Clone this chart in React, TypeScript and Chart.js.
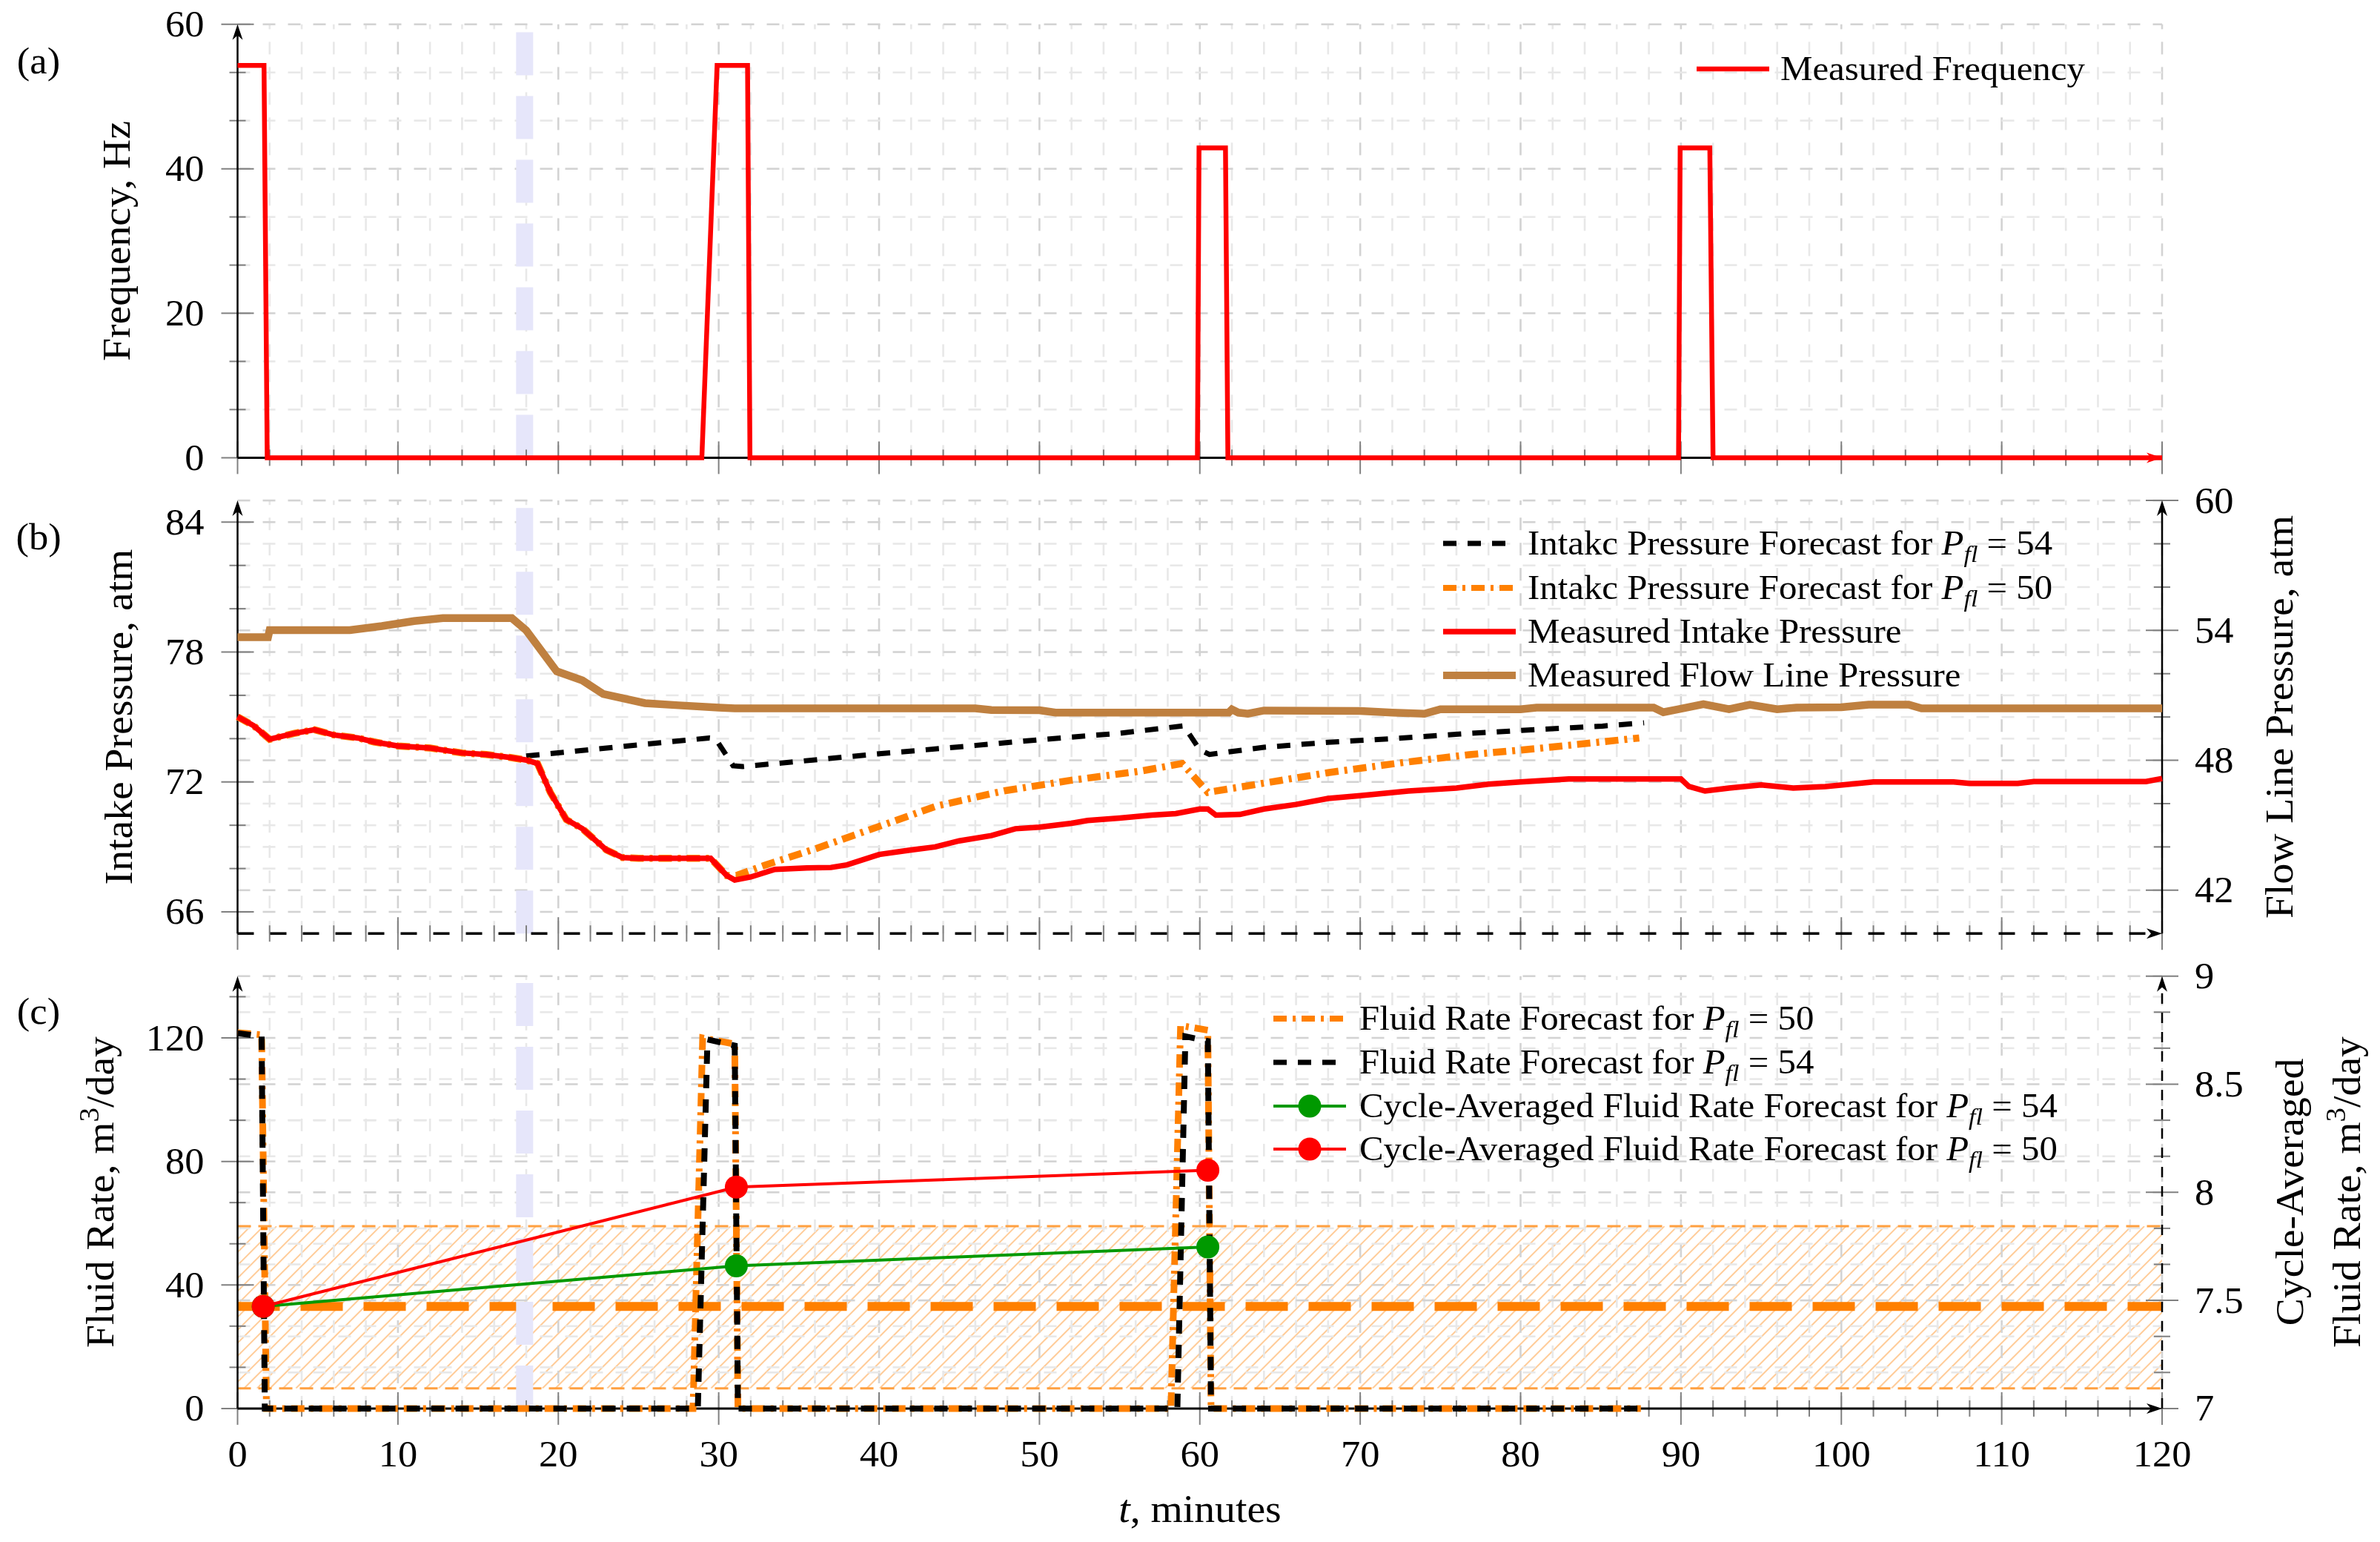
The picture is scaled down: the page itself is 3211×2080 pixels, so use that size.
import React, { useEffect, useRef } from "react";
import { Chart, registerables } from "chart.js";

Chart.register(...registerables);

// ================= DATA =================
// Panel (a): measured ESP frequency, Hz
const freqTime = [0, 1.65, 1.85, 28.95, 29.9, 31.8, 31.95, 59.85, 59.95, 61.6, 61.75, 89.85, 89.95, 91.8, 92.0, 120];
const freqHz = [54.3, 54.3, 0, 0, 54.3, 54.3, 0, 0, 42.9, 42.9, 0, 0, 42.9, 42.9, 0, 0];

// Panel (b): measured intake pressure (left axis, atm)
const intakeTime = [0, 1, 2, 3.5, 4.8, 6, 7.5, 8.5, 10, 12, 13, 14, 15.5, 17, 18, 18.7, 19.5, 20.5, 21.5, 23, 24, 25, 29.5, 30.5, 31, 32, 33.5, 35.5, 37, 38, 40, 42, 43.5, 45, 47, 48.5, 50, 52, 53, 55, 57, 58.5, 60, 60.5, 61, 62.5, 64, 66, 68, 70, 73, 76, 78, 80, 83, 90, 90.5, 91.5, 93, 95, 97, 99, 102, 107, 108, 111, 112, 119, 120];
const intakeAtm = [75.01, 74.6, 73.97, 74.24, 74.41, 74.17, 74.03, 73.85, 73.66, 73.57, 73.45, 73.34, 73.27, 73.13, 73.01, 72.85, 71.52, 70.26, 69.84, 68.86, 68.51, 68.47, 68.47, 67.68, 67.47, 67.61, 67.96, 68.03, 68.05, 68.17, 68.65, 68.86, 69.0, 69.28, 69.52, 69.84, 69.91, 70.09, 70.22, 70.33, 70.47, 70.54, 70.75, 70.75, 70.47, 70.5, 70.75, 70.96, 71.24, 71.37, 71.58, 71.72, 71.9, 72.0, 72.14, 72.14, 71.79, 71.58, 71.72, 71.86, 71.72, 71.79, 72.0, 72.0, 71.93, 71.93, 72.02, 72.02, 72.16];
// measured flow line pressure (right axis, atm)
const flowTime = [0, 1.9, 2.0, 7, 9, 11, 12.8, 17.1, 18, 19.9, 21.5, 22.8, 25.4, 27.5, 30, 31, 46, 47, 50, 51, 61.8, 62, 62.4, 63, 64, 70, 72, 74, 75, 80, 81, 88.3, 88.9, 89.8, 91.4, 93, 94.3, 96, 97.2, 100, 101.7, 104.2, 105, 120];
const flowAtm = [53.69, 53.69, 54.01, 54.01, 54.2, 54.43, 54.57, 54.57, 54.0, 52.11, 51.69, 51.06, 50.64, 50.54, 50.43, 50.4, 50.4, 50.32, 50.31, 50.2, 50.2, 50.35, 50.2, 50.15, 50.3, 50.28, 50.2, 50.15, 50.36, 50.36, 50.43, 50.43, 50.22, 50.35, 50.59, 50.36, 50.57, 50.36, 50.43, 50.45, 50.57, 50.57, 50.4, 50.4];
// intake pressure forecast for Pfl = 54
const fc54Time = [18, 29.4, 29.8, 30.9, 31.5, 35, 40, 45, 50, 55, 59, 60, 60.6, 64, 68, 72, 76.8, 81, 85.1, 87.7];
const fc54Atm = [73.2, 74.03, 74.0, 72.75, 72.71, 72.95, 73.3, 73.62, 73.95, 74.25, 74.59, 73.48, 73.27, 73.6, 73.83, 74.0, 74.24, 74.42, 74.58, 74.73];
// intake pressure forecast for Pfl = 50
const fc50Time = [0, 1, 2, 3.5, 4.8, 6, 7.5, 8.5, 10, 12, 13, 14, 15.5, 17, 18, 18.7, 19.5, 20.5, 21.5, 23, 24, 25, 29.5, 30.5, 31.1, 32.9, 36.1, 40.4, 43.6, 47.8, 52.0, 56.3, 58.9, 60.5, 68, 72.7, 76.8, 81, 87.4];
const fc50Atm = [75.01, 74.6, 73.97, 74.24, 74.41, 74.17, 74.03, 73.85, 73.66, 73.57, 73.45, 73.34, 73.27, 73.13, 73.01, 72.85, 71.52, 70.26, 69.84, 68.86, 68.51, 68.47, 68.47, 67.68, 67.68, 68.16, 68.93, 70.05, 70.89, 71.59, 72.08, 72.5, 72.85, 71.52, 72.43, 72.9, 73.26, 73.54, 74.03];

// Panel (c): fluid rate forecasts (left axis, m3/day)
const rate50Time = [0, 1.5, 1.8, 28.4, 29.0, 31.0, 31.2, 58.2, 58.8, 60.5, 60.7, 87.5];
const rate50 = [121.7, 121.0, 0, 0, 120, 118, 0, 0, 124, 122.5, 0, 0];
const rate54Time = [0, 1.5, 1.7, 28.7, 29.3, 31.0, 31.2, 58.6, 59.1, 60.5, 60.7, 87.5];
const rate54 = [121.5, 120.5, 0, 0, 119.5, 117.5, 0, 0, 120.5, 119, 0, 0];
// cycle-averaged fluid rate (right axis)
const avgTime = [1.6, 31.1, 60.5];
const avg54 = [7.472, 7.66, 7.747];
const avg50 = [7.472, 8.024, 8.102];
// measured average band (right axis)
const bandLow = 7.093;
const bandHigh = 7.843;
const bandMean = 7.472;
// start of forecast marker (minutes)
const cutoffTime = 17.9;

// ticks / labels
const timeLabels = [0, 10, 20, 30, 40, 50, 60, 70, 80, 90, 100, 110, 120];
const freqLabels = [0, 20, 40, 60];
const intakeLabels = [66, 72, 78, 84];
const flowLabels = [42, 48, 54, 60];
const rateLabels = [0, 40, 80, 120];
const avgLabels = [7, 7.5, 8, 8.5, 9];
const avgLabelTexts = ["7", "7.5", "8", "8.5", "9"];

// ================= STYLE / LAYOUT =================
const W = 3211;
const PLOT_LEFT = 320.5;
const PLOT_RIGHT = 2917;
const FAMILY = '"Liberation Serif", "DejaVu Serif", serif';
const SX = 1.05;
const RED = "#ff0000";
const ORANGE = "#ff8000";
const BROWN = "#bf8040";
const GREEN = "#009900";
const LAVENDER = "#e6e6fa";
const GRID_MAJOR = "#d3d3d3";
const GRID_MINOR = "#e8e8e8";
const GRID_DASH = [17, 17];
const TICK_C = "#808080";
const TICK_FS = 50;
const TITLE_FS = 53;
const LEG_FS = 46.5;
const DASH_BLACK = [18, 15];
const DASH_ORANGE = [18, 8, 4, 8];

const pts = (xs: number[], ys: number[]) => xs.map((x, i) => ({ x, y: ys[i] }));
const steps = (a: number, step: number, n: number) => Array.from({ length: n }, (_, k) => a + k * step);

type Seg = { t: string; it?: boolean; sub?: boolean; sup?: boolean };
type LegendItem = { segs: Seg[]; color: string; width: number; dash: number[]; marker?: boolean };
type TickSet = { axis: string; side: "left" | "right"; values: number[]; majors: number[] };
type LabelSet = { axis: string; side: "left" | "right"; values: number[]; texts: string[] };
type Title = { segs: Seg[]; x: number; y: number; rot: boolean };
interface PanelSpec {
  top: number;
  tickSets: TickSet[];
  labelSets: LabelSet[];
  xLabelY?: number;
  rightAxis?: "solid" | "dashed";
  bottomAxis: "solid" | "dashed";
  bottomArrow: string;
  titles: Title[];
  legend: { x0: number; x1: number; tx: number; rows: number[]; items: LegendItem[] };
  label: { t: string; x: number; y: number };
  band?: boolean;
}

function fnt(s: Seg, size: number) {
  const sz = s.sub || s.sup ? size * 0.7 : size;
  return `${s.it ? "italic " : ""}${sz}px ${FAMILY}`;
}

function drawSegs(ctx: CanvasRenderingContext2D, segs: Seg[], x: number, yMid: number, size: number, align: "left" | "center" | "right") {
  let w = 0;
  for (const s of segs) {
    ctx.font = fnt(s, size);
    w += ctx.measureText(s.t).width;
  }
  w *= SX;
  const x0 = align === "center" ? x - w / 2 : align === "right" ? x - w : x;
  ctx.save();
  ctx.translate(x0, yMid + size * 0.33);
  ctx.scale(SX, 1);
  ctx.fillStyle = "#000";
  ctx.textAlign = "left";
  ctx.textBaseline = "alphabetic";
  let cx = 0;
  for (const s of segs) {
    ctx.font = fnt(s, size);
    const dy = s.sub ? size * 0.2 : s.sup ? -size * 0.38 : 0;
    ctx.fillText(s.t, cx, dy);
    cx += ctx.measureText(s.t).width;
  }
  ctx.restore();
}

function line(ctx: CanvasRenderingContext2D, x1: number, y1: number, x2: number, y2: number, color: string, width: number, dash: number[] = []) {
  ctx.beginPath();
  ctx.setLineDash(dash);
  ctx.lineCap = "butt";
  ctx.strokeStyle = color;
  ctx.lineWidth = width;
  ctx.moveTo(x1, y1);
  ctx.lineTo(x2, y2);
  ctx.stroke();
  ctx.setLineDash([]);
}

function arrowUp(ctx: CanvasRenderingContext2D, x: number, y: number, color: string) {
  ctx.beginPath();
  ctx.fillStyle = color;
  ctx.moveTo(x, y);
  ctx.lineTo(x - 7, y + 21);
  ctx.lineTo(x, y + 15);
  ctx.lineTo(x + 7, y + 21);
  ctx.closePath();
  ctx.fill();
}

function arrowRight(ctx: CanvasRenderingContext2D, x: number, y: number, color: string) {
  ctx.beginPath();
  ctx.fillStyle = color;
  ctx.moveTo(x, y);
  ctx.lineTo(x - 21, y - 7);
  ctx.lineTo(x - 15, y);
  ctx.lineTo(x - 21, y + 7);
  ctx.closePath();
  ctx.fill();
}

const isIn = (v: number, arr: number[]) => arr.some((m) => Math.abs(m - v) < 1e-6);

function makePlugin(P: PanelSpec) {
  return {
    id: "panelDecor",
    beforeDatasetsDraw(chart: any) {
      const ctx: CanvasRenderingContext2D = chart.ctx;
      const ca = chart.chartArea;
      const xs = chart.scales.x;
      ctx.save();
      // hatched band
      if (P.band) {
        const s = chart.scales.y1;
        const yT = s.getPixelForValue(bandHigh);
        const yB = s.getPixelForValue(bandLow);
        const h = yB - yT;
        ctx.save();
        ctx.beginPath();
        ctx.rect(ca.left, yT, ca.right - ca.left, h);
        ctx.clip();
        for (let x = ca.left - h; x < ca.right + 20; x += 17.5) {
          line(ctx, x, yB, x + h, yT, "#ffcc99", 2);
        }
        ctx.restore();
      }
      // vertical grid
      for (let k = 1; k <= 60; k++) {
        const t = k * 2;
        const px = xs.getPixelForValue(t);
        line(ctx, px, ca.bottom, px, ca.top, t % 10 === 0 ? GRID_MAJOR : GRID_MINOR, 2.6, GRID_DASH);
      }
      // horizontal grid
      for (const ts of P.tickSets) {
        const s = chart.scales[ts.axis];
        for (const v of ts.values) {
          const py = s.getPixelForValue(v);
          if (Math.abs(py - ca.bottom) < 1) continue;
          line(ctx, ca.left, py, ca.right, py, isIn(v, ts.majors) ? GRID_MAJOR : GRID_MINOR, 2.6, GRID_DASH);
        }
      }
      if (P.band) {
        const s = chart.scales.y1;
        line(ctx, ca.left, s.getPixelForValue(bandHigh), ca.right, s.getPixelForValue(bandHigh), "#ffa040", 3, [18, 10]);
        line(ctx, ca.left, s.getPixelForValue(bandLow), ca.right, s.getPixelForValue(bandLow), "#ffa040", 3, [18, 10]);
        line(ctx, ca.left, s.getPixelForValue(bandMean), ca.right, s.getPixelForValue(bandMean), ORANGE, 12, [57, 28]);
      }
      // forecast start marker
      const lx = xs.getPixelForValue(cutoffTime);
      line(ctx, lx, ca.bottom, lx, ca.top, LAVENDER, 23, [58, 28]);
      // x ticks
      for (let k = 0; k <= 60; k++) {
        const t = k * 2;
        const px = xs.getPixelForValue(t);
        const half = t % 10 === 0 ? 22 : 11;
        line(ctx, px, ca.bottom - half, px, ca.bottom + half, TICK_C, 2);
      }
      // y ticks
      for (const ts of P.tickSets) {
        const s = chart.scales[ts.axis];
        const x = ts.side === "left" ? ca.left : ca.right;
        for (const v of ts.values) {
          const py = s.getPixelForValue(v);
          const half = isIn(v, ts.majors) ? 22 : 11;
          line(ctx, x - half, py, x + half, py, TICK_C, 2);
        }
      }
      // axes
      line(ctx, ca.left, ca.bottom, ca.left, ca.top + 8, "#000", 2.5);
      arrowUp(ctx, ca.left, ca.top, "#000");
      if (P.rightAxis) {
        line(ctx, ca.right, ca.bottom, ca.right, ca.top + 8, "#000", 2.5, P.rightAxis === "dashed" ? [14, 12] : []);
        arrowUp(ctx, ca.right, ca.top, "#000");
      }
      line(ctx, ca.left, ca.bottom, ca.right - 8, ca.bottom, "#000", P.bottomAxis === "dashed" ? 3.5 : 3, P.bottomAxis === "dashed" ? [22, 22] : []);
      arrowRight(ctx, ca.right, ca.bottom, P.bottomArrow);
      ctx.restore();
    },
    afterDraw(chart: any) {
      const ctx: CanvasRenderingContext2D = chart.ctx;
      const ca = chart.chartArea;
      const off = P.top;
      ctx.save();
      // y tick labels
      for (const ls of P.labelSets) {
        const s = chart.scales[ls.axis];
        ls.values.forEach((v, i) => {
          const py = s.getPixelForValue(v);
          if (ls.side === "left") drawSegs(ctx, [{ t: ls.texts[i] }], ca.left - 45, py, TICK_FS, "right");
          else drawSegs(ctx, [{ t: ls.texts[i] }], ca.right + 44, py, TICK_FS, "left");
        });
      }
      // x tick labels
      if (P.xLabelY !== undefined) {
        const xs = chart.scales.x;
        for (const t of timeLabels) {
          drawSegs(ctx, [{ t: String(t) }], xs.getPixelForValue(t), P.xLabelY - off, TICK_FS, "center");
        }
      }
      // titles
      for (const tt of P.titles) {
        if (tt.rot) {
          ctx.save();
          ctx.translate(tt.x, tt.y - off);
          ctx.rotate(-Math.PI / 2);
          drawSegs(ctx, tt.segs, 0, 0, TITLE_FS, "center");
          ctx.restore();
        } else {
          drawSegs(ctx, tt.segs, tt.x, tt.y - off, TITLE_FS, "center");
        }
      }
      // panel label
      drawSegs(ctx, [{ t: P.label.t }], P.label.x, P.label.y - off, 50, "center");
      // legend
      const L = P.legend;
      L.items.forEach((it, i) => {
        const y = L.rows[i] - off;
        line(ctx, L.x0, y, L.x1, y, it.color, it.width, it.dash);
        if (it.marker) {
          ctx.beginPath();
          ctx.fillStyle = it.color;
          ctx.arc((L.x0 + L.x1) / 2, y, 15.5, 0, Math.PI * 2);
          ctx.fill();
        }
        drawSegs(ctx, it.segs, L.tx, y, LEG_FS, "left");
      });
      ctx.restore();
    },
  };
}

function baseOptions(padTop: number, xH: number, y: number[], y1: number[] | null) {
  const hidden = { ticks: { display: false }, grid: { display: false }, border: { display: false } };
  const scales: any = {
    x: { type: "linear", min: 0, max: 120, ...hidden, afterFit: (s: any) => { s.height = xH; } },
    y: { type: "linear", position: "left", min: y[0], max: y[1], ...hidden, afterFit: (s: any) => { s.width = PLOT_LEFT; } },
  };
  if (y1) {
    scales.y1 = { type: "linear", position: "right", min: y1[0], max: y1[1], ...hidden, afterFit: (s: any) => { s.width = W - PLOT_RIGHT; } };
  }
  return {
    animation: false,
    responsive: false,
    maintainAspectRatio: false,
    events: [],
    layout: { autoPadding: false, padding: { top: padTop, left: 0, bottom: 0, right: y1 ? 0 : W - PLOT_RIGHT } },
    plugins: { legend: { display: false }, tooltip: { enabled: false }, title: { display: false } },
    elements: { point: { radius: 0 }, line: { tension: 0 } },
    scales,
  };
}

const pfl = (pre: string, val: string): Seg[] => [{ t: pre }, { t: "P", it: true }, { t: "fl", it: true, sub: true }, { t: " = " + val }];

function buildA(top: number) {
  const spec: PanelSpec = {
    top,
    tickSets: [{ axis: "y", side: "left", values: steps(0, 20 / 3, 10), majors: freqLabels }],
    labelSets: [{ axis: "y", side: "left", values: freqLabels, texts: freqLabels.map(String) }],
    bottomAxis: "solid",
    bottomArrow: RED,
    titles: [{ segs: [{ t: "Frequency, Hz" }], x: 158, y: 325, rot: true }],
    legend: {
      x0: 2289, x1: 2387, tx: 2402, rows: [93],
      items: [{ segs: [{ t: "Measured Frequency" }], color: RED, width: 6.5, dash: [] }],
    },
    label: { t: "(a)", x: 52, y: 82 },
  };
  return {
    type: "line",
    data: {
      datasets: [
        { label: "Measured Frequency", data: pts(freqTime, freqHz), borderColor: RED, borderWidth: 6.5, pointRadius: 0, clip: false, yAxisID: "y" },
      ],
    },
    options: baseOptions(32.8, 646 - 617.4, [0, 60], null),
    plugins: [makePlugin(spec)],
  };
}

function buildB(top: number) {
  const spec: PanelSpec = {
    top,
    tickSets: [
      { axis: "y", side: "left", values: steps(66, 2, 10), majors: intakeLabels },
      { axis: "y1", side: "right", values: steps(42, 2, 10), majors: flowLabels },
    ],
    labelSets: [
      { axis: "y", side: "left", values: intakeLabels, texts: intakeLabels.map(String) },
      { axis: "y1", side: "right", values: flowLabels, texts: flowLabels.map(String) },
    ],
    rightAxis: "solid",
    bottomAxis: "dashed",
    bottomArrow: "#000",
    titles: [
      { segs: [{ t: "Intake Pressure, atm" }], x: 161, y: 967, rot: true },
      { segs: [{ t: "Flow Line Pressure, atm" }], x: 3076, y: 967, rot: true },
    ],
    legend: {
      x0: 1947, x1: 2045, tx: 2061, rows: [733, 793, 852, 911],
      items: [
        { segs: pfl("Intakc Pressure Forecast for ", "54"), color: "#000", width: 7, dash: DASH_BLACK },
        { segs: pfl("Intakc Pressure Forecast for ", "50"), color: ORANGE, width: 8, dash: DASH_ORANGE },
        { segs: [{ t: "Measured Intake Pressure" }], color: RED, width: 7.5, dash: [] },
        { segs: [{ t: "Measured Flow Line Pressure" }], color: BROWN, width: 10, dash: [] },
      ],
    },
    label: { t: "(b)", x: 52, y: 724 },
  };
  return {
    type: "line",
    data: {
      datasets: [
        { label: "Measured Intake Pressure", data: pts(intakeTime, intakeAtm), borderColor: RED, borderWidth: 7.5, pointRadius: 0, clip: false, yAxisID: "y", order: 0 },
        { label: "Forecast 50", data: pts(fc50Time, fc50Atm), borderColor: ORANGE, borderWidth: 9.5, borderDash: DASH_ORANGE, pointRadius: 0, clip: false, yAxisID: "y", order: 1 },
        { label: "Forecast 54", data: pts(fc54Time, fc54Atm), borderColor: "#000", borderWidth: 7, borderDash: DASH_BLACK, pointRadius: 0, clip: false, yAxisID: "y", order: 2 },
        { label: "Measured Flow Line Pressure", data: pts(flowTime, flowAtm), borderColor: BROWN, borderWidth: 10.5, pointRadius: 0, clip: false, yAxisID: "y1", order: 3 },
      ],
    },
    options: baseOptions(675.1 - top, top + 646 - 1259.2, [65, 85], [40, 60]),
    plugins: [makePlugin(spec)],
  };
}

function buildC(top: number) {
  const spec: PanelSpec = {
    top,
    tickSets: [
      { axis: "y", side: "left", values: steps(0, 40 / 3, 11), majors: rateLabels },
      { axis: "y1", side: "right", values: steps(7, 1 / 6, 13), majors: avgLabels },
    ],
    labelSets: [
      { axis: "y", side: "left", values: rateLabels, texts: rateLabels.map(String) },
      { axis: "y1", side: "right", values: avgLabels, texts: avgLabelTexts },
    ],
    xLabelY: 1961,
    rightAxis: "dashed",
    bottomAxis: "solid",
    bottomArrow: "#000",
    titles: [
      { segs: [{ t: "Fluid Rate, m" }, { t: "3", sup: true }, { t: "/day" }], x: 136, y: 1608, rot: true },
      { segs: [{ t: "Cycle-Averaged" }], x: 3090, y: 1608, rot: true },
      { segs: [{ t: "Fluid Rate, m" }, { t: "3", sup: true }, { t: "/day" }], x: 3167, y: 1608, rot: true },
      { segs: [{ t: "t", it: true }, { t: ", minutes" }], x: 1619, y: 2036, rot: false },
    ],
    legend: {
      x0: 1718, x1: 1816, tx: 1834, rows: [1374, 1433, 1492, 1550],
      items: [
        { segs: pfl("Fluid Rate Forecast for ", "50"), color: ORANGE, width: 8, dash: DASH_ORANGE },
        { segs: pfl("Fluid Rate Forecast for ", "54"), color: "#000", width: 7, dash: DASH_BLACK },
        { segs: pfl("Cycle-Averaged Fluid Rate Forecast for ", "54"), color: GREEN, width: 4, dash: [], marker: true },
        { segs: pfl("Cycle-Averaged Fluid Rate Forecast for ", "50"), color: RED, width: 4, dash: [], marker: true },
      ],
    },
    label: { t: "(c)", x: 52, y: 1364 },
    band: true,
  };
  return {
    type: "line",
    data: {
      datasets: [
        { label: "Cycle-Averaged 50", data: pts(avgTime, avg50), borderColor: RED, borderWidth: 4, pointRadius: 15.5, pointBackgroundColor: RED, pointBorderWidth: 0, clip: false, yAxisID: "y1", order: 0 },
        { label: "Cycle-Averaged 54", data: pts(avgTime, avg54), borderColor: GREEN, borderWidth: 4, pointRadius: 15.5, pointBackgroundColor: GREEN, pointBorderWidth: 0, clip: false, yAxisID: "y1", order: 1 },
        { label: "Rate 54", data: pts(rate54Time, rate54), borderColor: "#000", borderWidth: 8, borderDash: DASH_BLACK, pointRadius: 0, clip: false, yAxisID: "y", order: 2 },
        { label: "Rate 50", data: pts(rate50Time, rate50), borderColor: ORANGE, borderWidth: 9, borderDash: DASH_ORANGE, pointRadius: 0, clip: false, yAxisID: "y", order: 3 },
      ],
    },
    options: baseOptions(1316.7 - top, top + 788 - 1899.9, [0, 140], [7, 9]),
    plugins: [makePlugin(spec)],
  };
}

function Panel({ build, top, height }: { build: (top: number) => any; top: number; height: number }) {
  const ref = useRef<HTMLCanvasElement>(null);
  useEffect(() => {
    const chart = new Chart(ref.current as HTMLCanvasElement, build(top));
    return () => chart.destroy();
  }, []);
  return (
    <canvas
      ref={ref}
      width={W}
      height={height}
      style={{ position: "absolute", left: 0, top, width: W, height, display: "block" }}
    />
  );
}

export default function App() {
  return (
    <div style={{ position: "absolute", left: 0, top: 0, width: W, height: 2080, background: "#fff", overflow: "hidden" }}>
      <Panel build={buildA} top={0} height={646} />
      <Panel build={buildB} top={646} height={646} />
      <Panel build={buildC} top={1292} height={788} />
    </div>
  );
}
